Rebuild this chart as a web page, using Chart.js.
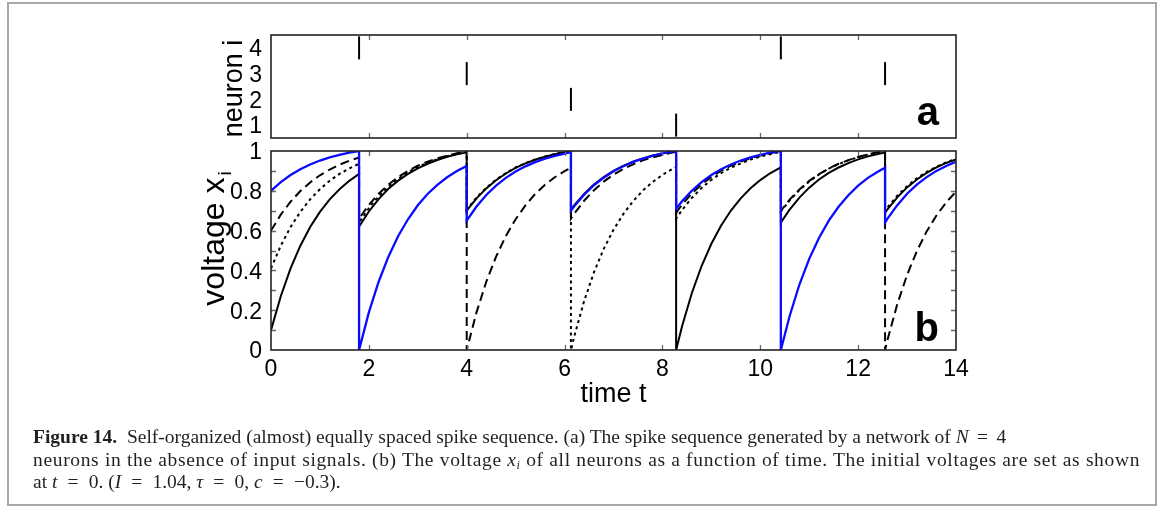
<!DOCTYPE html>
<html>
<head>
<meta charset="utf-8">
<script src="https://cdn.jsdelivr.net/npm/chart.js@4.4.1/dist/chart.umd.min.js"></script>
<style>
html, body { margin: 0; padding: 0; background: #fff; }
#page { position: relative; width: 1165px; height: 512px; overflow: hidden; }
#frame { position: absolute; left: 7px; top: 2px; width: 1150px; height: 504px; border: 2px solid #a8a8a8; box-sizing: border-box; }
.plot { position: absolute; left: 0; top: 0; width: 1165px; height: 512px; }
#caption { position: absolute; left: 33px; top: 426px; font-family: "Liberation Serif", serif; font-size: 19.5px; line-height: 22.5px; color: #231f20; white-space: nowrap; }
#caption div { height: 22.5px; }
#caption sub { font-size: 12px; line-height: 0; vertical-align: -3px; }
.eq { margin: 0 0.18em; }
.eq3 { margin: 0 0.27em; }
</style>
</head>
<body>
<div id="page">
  <div id="frame"></div>
  <div class="plot"><canvas id="spikes"></canvas></div>
  <div class="plot"><canvas id="voltage"></canvas></div>
  <div id="caption">
    <div><b>Figure 14.</b>&nbsp;&nbsp;Self-organized (almost) equally spaced spike sequence. (a) The spike sequence generated by a network of <i>N</i> <span class="eq">=</span> 4</div>
    <div style="letter-spacing:0.66px">neurons in the absence of input signals. (b) The voltage <i>x<sub>i</sub></i> of all neurons as a function of time. The initial voltages are set as shown</div>
    <div>at <i>t</i> <span class="eq3">=</span> 0. (<i>I</i> <span class="eq3">=</span> 1.04, <i>τ</i> <span class="eq3">=</span> 0, <i>c</i> <span class="eq3">=</span> −0.3).</div>
  </div>
</div>
<script>
// spike raster (panel a)
const spikeTimes = [1.80, 4.00, 6.13, 8.28, 10.42, 12.55];
const spikeNeurons = [4, 3, 2, 1, 4, 3];
const neuronTicks = [1, 2, 3, 4];

// voltage traces (panel b), spike times appear twice (before / after the jump)
const timeT = [
  0, 0.2, 0.4, 0.6, 0.8, 1.0, 1.2, 1.4, 1.6, 1.8,
  1.8, 2.0, 2.2, 2.4, 2.6, 2.8, 3.0, 3.2, 3.4, 3.6, 3.8, 4.0,
  4.0, 4.2, 4.4, 4.6, 4.8, 5.0, 5.2, 5.4, 5.6, 5.8, 6.0, 6.13,
  6.13, 6.2, 6.4, 6.6, 6.8, 7.0, 7.2, 7.4, 7.6, 7.8, 8.0, 8.2, 8.28,
  8.28, 8.4, 8.6, 8.8, 9.0, 9.2, 9.4, 9.6, 9.8, 10.0, 10.2, 10.4, 10.42,
  10.42, 10.6, 10.8, 11.0, 11.2, 11.4, 11.6, 11.8, 12.0, 12.2, 12.4, 12.55,
  12.55, 12.6, 12.8, 13.0, 13.2, 13.4, 13.6, 13.8, 14.0
];
const neuron1 = [ // solid black
  0.10, 0.27, 0.41, 0.524, 0.618, 0.694, 0.757, 0.808, 0.85, 0.885,
  0.62, 0.696, 0.758, 0.81, 0.851, 0.885, 0.913, 0.936, 0.955, 0.971, 0.983, 0.993,
  0.70, 0.762, 0.812, 0.853, 0.887, 0.915, 0.938, 0.956, 0.971, 0.984, 0.994, 0.998,
  0.705, 0.728, 0.784, 0.831, 0.869, 0.90, 0.925, 0.946, 0.963, 0.977, 0.988, 0.998, 1.0,
  0, 0.118, 0.285, 0.422, 0.534, 0.626, 0.701, 0.762, 0.813, 0.854, 0.888, 0.915, 0.918,
  0.64, 0.706, 0.766, 0.816, 0.857, 0.89, 0.917, 0.939, 0.958, 0.973, 0.985, 0.992,
  0.69, 0.707, 0.767, 0.817, 0.857, 0.89, 0.918, 0.94, 0.958
];
const neuron2 = [ // dotted black
  0.41, 0.524, 0.618, 0.694, 0.757, 0.808, 0.85, 0.885, 0.913, 0.936,
  0.64, 0.713, 0.772, 0.82, 0.86, 0.893, 0.92, 0.941, 0.959, 0.974, 0.986, 0.996,
  0.705, 0.766, 0.815, 0.856, 0.889, 0.917, 0.939, 0.957, 0.972, 0.985, 0.995, 1.0,
  0, 0.07, 0.246, 0.39, 0.508, 0.604, 0.683, 0.748, 0.801, 0.844, 0.88, 0.909, 0.919,
  0.66, 0.703, 0.764, 0.814, 0.855, 0.889, 0.916, 0.938, 0.957, 0.972, 0.984, 0.994, 0.995,
  0.695, 0.752, 0.804, 0.847, 0.882, 0.911, 0.934, 0.953, 0.969, 0.982, 0.992, 0.999,
  0.70, 0.717, 0.775, 0.823, 0.863, 0.895, 0.921, 0.943, 0.96
];
const neuron3 = [ // dashed black
  0.60, 0.68, 0.745, 0.799, 0.842, 0.878, 0.907, 0.931, 0.951, 0.967,
  0.66, 0.729, 0.785, 0.831, 0.869, 0.90, 0.926, 0.946, 0.963, 0.977, 0.989, 1.0,
  0, 0.189, 0.343, 0.469, 0.573, 0.657, 0.727, 0.784, 0.83, 0.868, 0.899, 0.916,
  0.66, 0.686, 0.75, 0.803, 0.846, 0.881, 0.91, 0.933, 0.953, 0.968, 0.981, 0.992, 0.996,
  0.69, 0.73, 0.786, 0.832, 0.87, 0.901, 0.926, 0.947, 0.963, 0.977, 0.989, 0.998, 0.999,
  0.70, 0.756, 0.807, 0.85, 0.884, 0.912, 0.936, 0.954, 0.97, 0.983, 0.993, 1.0,
  0, 0.051, 0.23, 0.377, 0.497, 0.596, 0.676, 0.742, 0.796
];
const neuron4 = [ // solid blue
  0.80, 0.844, 0.879, 0.908, 0.932, 0.952, 0.968, 0.981, 0.992, 1.0,
  0, 0.189, 0.343, 0.469, 0.573, 0.657, 0.727, 0.784, 0.83, 0.868, 0.899, 0.925,
  0.65, 0.721, 0.779, 0.826, 0.865, 0.897, 0.923, 0.944, 0.961, 0.976, 0.987, 0.994,
  0.70, 0.723, 0.78, 0.828, 0.866, 0.898, 0.923, 0.945, 0.962, 0.976, 0.988, 0.997, 0.999,
  0.71, 0.747, 0.80, 0.844, 0.879, 0.908, 0.932, 0.952, 0.968, 0.981, 0.992, 1.0, 1.0,
  0, 0.171, 0.329, 0.458, 0.563, 0.65, 0.72, 0.778, 0.826, 0.865, 0.896, 0.916,
  0.64, 0.66, 0.728, 0.785, 0.831, 0.869, 0.90, 0.925, 0.946
];

// inward tick marks
const timeMarks = [2, 4, 6, 8, 10, 12];
const voltageMarks = [0.1, 0.2, 0.3, 0.4, 0.5, 0.6, 0.7, 0.8, 0.9];

const FONT = '"Liberation Sans", Arial, sans-serif';

const pts = ys => timeT.map((t, i) => ({x: t, y: ys[i]}));

const boxTicks = {
  id: 'boxTicks',
  afterDraw(chart, args, o) {
    const {ctx, chartArea: a, scales} = chart;
    ctx.save();
    ctx.strokeStyle = '#666';
    ctx.lineWidth = 1.3;
    const len = 5;
    ctx.beginPath();
    (o.xMarks || []).forEach(v => {
      const px = Math.round(scales.x.getPixelForValue(v)) + 0.5;
      ctx.moveTo(px, a.bottom); ctx.lineTo(px, a.bottom - len);
      ctx.moveTo(px, a.top); ctx.lineTo(px, a.top + len);
    });
    (o.yMarks || []).forEach(v => {
      const py = Math.round(scales.y.getPixelForValue(v)) + 0.5;
      ctx.moveTo(a.left, py); ctx.lineTo(a.left + len, py);
      ctx.moveTo(a.right, py); ctx.lineTo(a.right - len, py);
    });
    ctx.stroke();
    ctx.strokeStyle = '#222';
    ctx.lineWidth = 1.6;
    ctx.strokeRect(a.left, a.top, a.right - a.left, a.bottom - a.top);

    ctx.fillStyle = '#000';
    ctx.font = 'bold 40px ' + FONT;
    ctx.textAlign = 'right';
    ctx.textBaseline = 'alphabetic';
    ctx.fillText(o.letter, a.right - 17, a.bottom - o.letterLift);

    // y title (rotated), optional subscript
    ctx.save();
    ctx.translate(a.left - o.yTitleGap, (a.top + a.bottom) / 2 + (o.yShift || 0));
    ctx.rotate(-Math.PI / 2);
    ctx.font = o.yTitleSize + 'px ' + FONT;
    const w1 = ctx.measureText(o.yTitle).width;
    let w2 = 0;
    if (o.ySub) {
      ctx.font = Math.round(o.yTitleSize * 0.6) + 'px ' + FONT;
      w2 = ctx.measureText(o.ySub).width + 2;
    }
    const x0 = -(w1 + w2) / 2;
    ctx.textAlign = 'left';
    ctx.font = o.yTitleSize + 'px ' + FONT;
    ctx.fillText(o.yTitle, x0, 0);
    if (o.ySub) {
      ctx.font = Math.round(o.yTitleSize * 0.6) + 'px ' + FONT;
      ctx.fillText(o.ySub, x0 + w1 + 2, 7);
    }
    ctx.restore();

    if (o.xTitle) {
      ctx.font = '27px ' + FONT;
      ctx.textAlign = 'center';
      ctx.fillText(o.xTitle, (a.left + a.right) / 2, a.bottom + 52);
    }
    ctx.restore();
  }
};

const common = {
  responsive: true,
  maintainAspectRatio: false,
  animation: false,
  events: [],
  plugins: { legend: { display: false }, tooltip: { enabled: false } }
};

new Chart(document.getElementById('spikes'), {
  type: 'scatter',
  data: {
    datasets: [{
      data: spikeTimes.map((t, i) => ({x: t, y: spikeNeurons[i]})),
      pointStyle: 'line',
      rotation: 90,
      radius: 11.5,
      borderWidth: 2,
      borderColor: '#000'
    }]
  },
  options: Object.assign({}, common, {
    layout: { padding: { left: 0, top: 35, right: 209, bottom: 374 } },
    scales: {
      x: { type: 'linear', min: 0, max: 14, display: false },
      y: {
        min: 0.5, max: 4.5,
        grid: { display: false, drawTicks: false },
        border: { display: false },
        ticks: { padding: 9, labelOffset: 2, color: '#000', font: { family: FONT, size: 23 } },
        afterBuildTicks: s => { s.ticks = neuronTicks.map(v => ({value: v})); },
        afterFit: s => { s.width = 271; }
      }
    },
    plugins: Object.assign({}, common.plugins, {
      boxTicks: { xMarks: timeMarks, letter: 'a', letterLift: 13, yTitle: 'neuron i', yTitleSize: 27, yTitleGap: 29, yShift: 2 }
    })
  }),
  plugins: [boxTicks]
});

new Chart(document.getElementById('voltage'), {
  type: 'line',
  data: {
    datasets: [
      { data: pts(neuron4), borderColor: '#0b0bff', borderWidth: 2.3 },
      { data: pts(neuron1), borderColor: '#000', borderWidth: 2 },
      { data: pts(neuron3), borderColor: '#000', borderWidth: 2, borderDash: [9, 5] },
      { data: pts(neuron2), borderColor: '#000', borderWidth: 2, borderDash: [3, 3.5] }
    ]
  },
  options: Object.assign({}, common, {
    elements: { point: { radius: 0 }, line: { tension: 0, fill: false } },
    layout: { padding: { left: 0, top: 151, right: 209, bottom: 0 } },
    scales: {
      x: {
        type: 'linear', min: 0, max: 14,
        grid: { display: false, drawTicks: false },
        border: { display: false },
        ticks: { stepSize: 2, padding: 6, color: '#000', font: { family: FONT, size: 23 } },
        afterFit: s => { s.height = 162; }
      },
      y: {
        min: 0, max: 1,
        grid: { display: false, drawTicks: false },
        border: { display: false },
        ticks: { stepSize: 0.2, padding: 9, labelOffset: 2, color: '#000', font: { family: FONT, size: 23 },
          callback: v => String(Math.round(v * 10) / 10) },
        afterFit: s => { s.width = 271; }
      }
    },
    plugins: Object.assign({}, common.plugins, {
      boxTicks: { xMarks: timeMarks, yMarks: voltageMarks, letter: 'b', letterLift: 9, xTitle: 'time t',
        yTitle: 'voltage x', ySub: 'i', yTitleSize: 32, yTitleGap: 47, yShift: -12 }
    })
  }),
  plugins: [boxTicks]
});
</script>
</body>
</html>
